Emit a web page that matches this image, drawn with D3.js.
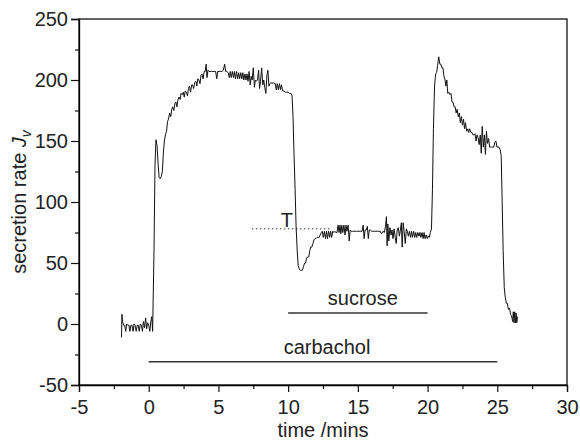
<!doctype html>
<html lang="en">
<head>
<meta charset="utf-8">
<title>secretion rate</title>
<style>
  body { margin: 0; background: #fff; }
  svg { display: block; font-family: "Liberation Sans", Arial, sans-serif; }
</style>
</head>
<body>
<svg width="580" height="442"></svg>
<script src="https://d3js.org/d3.v7.min.js"></script>
<script>
// trace: time (mins) and secretion rate
var timeMins = [
  -1.95, -1.92, -1.88, -1.8, -1.72, -1.65, -1.58, -1.5, -1.42, -1.35, -1.28, -1.2, -1.12, -1.05,
  -0.98, -0.9, -0.82, -0.75, -0.68, -0.6, -0.52, -0.45, -0.38, -0.3, -0.22, -0.15, -0.08, 0.0,
  0.08, 0.15, 0.22, 0.28, 0.38, 0.45, 0.52, 0.6, 0.68, 0.75, 0.82, 0.9, 0.98, 1.05, 1.12, 1.2,
  1.28, 1.35, 1.42, 1.5, 1.58, 1.65, 1.72, 1.8, 1.88, 1.95, 2.02, 2.1, 2.18, 2.25, 2.32, 2.4,
  2.48, 2.55, 2.62, 2.7, 2.78, 2.85, 2.92, 3.0, 3.08, 3.15, 3.22, 3.3, 3.38, 3.45, 3.52, 3.6,
  3.68, 3.75, 3.82, 3.9, 3.98, 4.05, 4.12, 4.18, 4.25, 4.32, 4.4, 4.5, 4.6, 4.7, 4.8, 4.88,
  4.95, 5.05, 5.15, 5.25, 5.35, 5.45, 5.52, 5.6, 5.7, 5.78, 5.85, 5.92, 6.0, 6.08, 6.15, 6.22,
  6.3, 6.38, 6.45, 6.52, 6.6, 6.68, 6.75, 6.82, 6.9, 6.98, 7.05, 7.12, 7.2, 7.28, 7.35, 7.42,
  7.5, 7.58, 7.65, 7.72, 7.8, 7.88, 7.95, 8.02, 8.1, 8.18, 8.25, 8.32, 8.4, 8.48, 8.55, 8.62,
  8.7, 8.78, 8.85, 8.92, 9.0, 9.08, 9.15, 9.22, 9.3, 9.38, 9.45, 9.52, 9.6, 9.7, 9.8, 9.9,
  10.0, 10.1, 10.2, 10.28, 10.35, 10.42, 10.5, 10.57, 10.65, 10.72, 10.8, 10.88, 10.95, 11.02,
  11.1, 11.18, 11.25, 11.32, 11.4, 11.48, 11.55, 11.62, 11.7, 11.78, 11.85, 11.92, 12.0, 12.08,
  12.15, 12.22, 12.3, 12.38, 12.45, 12.52, 12.6, 12.68, 12.75, 12.82, 12.9, 12.98, 13.05, 13.12,
  13.2, 13.28, 13.35, 13.42, 13.5, 13.58, 13.65, 13.72, 13.78, 13.85, 13.92, 14.0, 14.08, 14.15,
  14.22, 14.3, 14.38, 14.45, 14.52, 14.6, 14.7, 14.8, 14.9, 15.0, 15.1, 15.2, 15.3, 15.38,
  15.45, 15.52, 15.6, 15.68, 15.75, 15.82, 15.9, 16.0, 16.1, 16.2, 16.3, 16.4, 16.5, 16.6,
  16.7, 16.8, 16.9, 16.98, 17.05, 17.1, 17.15, 17.22, 17.3, 17.38, 17.45, 17.52, 17.6, 17.68,
  17.75, 17.82, 17.9, 17.98, 18.05, 18.12, 18.18, 18.25, 18.32, 18.4, 18.48, 18.55, 18.62, 18.7,
  18.78, 18.85, 18.92, 19.0, 19.08, 19.15, 19.22, 19.3, 19.38, 19.45, 19.52, 19.6, 19.68, 19.75,
  19.82, 19.9, 19.98, 20.05, 20.12, 20.2, 20.28, 20.35, 20.42, 20.5, 20.58, 20.65, 20.72, 20.8,
  20.88, 20.95, 21.02, 21.1, 21.18, 21.25, 21.32, 21.38, 21.45, 21.52, 21.6, 21.68, 21.75, 21.82,
  21.9, 21.98, 22.05, 22.12, 22.2, 22.28, 22.35, 22.42, 22.5, 22.58, 22.65, 22.72, 22.8, 22.88,
  22.95, 23.02, 23.1, 23.18, 23.25, 23.32, 23.4, 23.48, 23.55, 23.62, 23.7, 23.78, 23.85, 23.92,
  24.0, 24.08, 24.15, 24.22, 24.3, 24.38, 24.45, 24.52, 24.6, 24.68, 24.75, 24.82, 24.9, 24.98,
  25.05, 25.12, 25.2, 25.28, 25.35, 25.42, 25.5, 25.57, 25.65, 25.72, 25.8, 25.88, 25.95, 26.02,
  26.1, 26.15, 26.2, 26.25, 26.3, 26.35, 26.4, 26.45
];
var secretionRate = [
  -11, 8, 2, -1, -1, -6, 0, -1, -1, -6, -1, -1, -6, 0,
  -1, -6, -1, -1, -6, 0, -1, -6, 2, -3, 5, -4, 1, -1,
  -6, 2, 6, -6, 60, 130, 151, 146, 130, 120, 119, 121, 125, 140, 150, 155,
  158, 166, 168, 173, 170, 176, 178, 175, 181, 182, 178, 184, 186, 184, 189, 188,
  190, 186, 191, 190, 187, 193, 195, 190, 196, 196, 193, 198, 199, 195, 201, 200,
  197, 204, 205, 201, 207, 207, 213, 202, 208, 207, 207, 207, 207, 207, 207, 201,
  207, 207, 207, 207, 208, 213, 207, 207, 206, 202, 207, 202, 207, 202, 207, 201,
  207, 201, 206, 201, 206, 201, 206, 200, 205, 200, 205, 199, 207, 196, 203, 200,
  210, 194, 200, 199, 200, 208, 193, 199, 210, 196, 200, 194, 189, 204, 208, 195,
  197, 198, 197, 198, 197, 197, 192, 197, 192, 197, 192, 196, 191, 191, 190, 190,
  190, 189, 189, 187, 170, 140, 110, 80, 60, 48, 45, 44, 44, 44,
  47, 50, 50, 54, 55, 55, 60, 63, 63, 66, 69, 70, 70, 71,
  71, 71, 73, 75, 76, 71, 76, 70, 76, 70, 76, 71, 76, 71,
  76, 75, 76, 75, 75, 81, 75, 81, 74, 81, 75, 81, 73, 81,
  76, 81, 68, 77, 76, 76, 76, 76, 76, 76, 76, 76, 76, 81,
  70, 77, 77, 80, 70, 77, 77, 76, 76, 76, 76, 76, 76, 76,
  74, 76, 75, 80, 88, 64, 82, 68, 79, 73, 77, 70, 78, 71,
  66, 77, 79, 72, 77, 83, 63, 83, 76, 66, 78, 76, 72, 76,
  71, 76, 71, 76, 71, 75, 71, 75, 72, 75, 71, 75, 70, 75,
  70, 73, 70, 72, 71, 75, 78, 110, 160, 195, 205, 206, 212, 219,
  213, 213, 210, 210, 203, 200, 195, 200, 189, 190, 188, 189, 182, 182,
  178, 178, 173, 176, 170, 173, 165, 170, 163, 168, 160, 165, 158, 160,
  157, 160, 157, 157, 155, 155, 156, 150, 155, 153, 147, 155, 140, 162,
  145, 155, 139, 158, 148, 152, 145, 145, 145, 145, 145, 149, 150, 145,
  145, 145, 143, 138, 100, 60, 30, 22, 17, 17, 12, 13, 8, 7,
  2, 10, 1, 10, 1, 9, 1, 6
];
var xTicks = [-5, 0, 5, 10, 15, 20, 25, 30];
var yTicks = [-50, 0, 50, 100, 150, 200, 250];
// treatment bars: label, start, end, level
var bars = [
  { label: "sucrose", t0: 10, t1: 20, y: 9 },
  { label: "carbachol", t0: 0, t1: 25, y: -31 }
];
var tLine = { t0: 7.4, t1: 13.0, y: 78, label: "T" };

var svg = d3.select("svg");
var margin = { left: 79, top: 19, right: 13, bottom: 57 };
var W = 580 - margin.left - margin.right,
    H = 442 - margin.top - margin.bottom;
var fs = 20;

var x = d3.scaleLinear().domain([-5, 30]).range([0, W]);
var y = d3.scaleLinear().domain([-50, 250]).range([H, 0]);

var g = svg.append("g").attr("transform", "translate(" + margin.left + "," + margin.top + ")");

// frame
g.append("rect").attr("width", W).attr("height", H)
  .attr("fill", "none").attr("stroke", "#111").attr("stroke-width", 1.3);

// minor ticks
g.append("g").attr("transform", "translate(0," + H + ")")
  .call(d3.axisBottom(x).tickValues(d3.range(-2.5, 30, 5)).tickSize(4).tickFormat(""))
  .call(function(s) { s.select(".domain").remove(); });
g.append("g")
  .call(d3.axisLeft(y).tickValues(d3.range(-25, 250, 50)).tickSize(4).tickFormat(""))
  .call(function(s) { s.select(".domain").remove(); });

var plain = function(d) { return String(d); };
var xAxis = g.append("g").attr("transform", "translate(0," + H + ")")
  .call(d3.axisBottom(x).tickValues(xTicks).tickSize(7).tickPadding(8).tickFormat(plain));
var yAxis = g.append("g")
  .call(d3.axisLeft(y).tickValues(yTicks).tickSize(8).tickPadding(3).tickFormat(plain));

[xAxis, yAxis].forEach(function(a) {
  a.select(".domain").attr("stroke-width", 1.3);
  a.selectAll("text").attr("font-size", fs).attr("fill", "#222")
    .attr("font-family", "Liberation Sans, Arial, sans-serif");
});
g.selectAll(".tick line").attr("stroke", "#111").attr("stroke-width", 1.2);

// axis titles
svg.append("text").attr("x", margin.left + W / 2).attr("y", 437)
  .attr("text-anchor", "middle").attr("font-size", fs).attr("fill", "#222")
  .text("time /mins");
var yl = svg.append("text")
  .attr("transform", "translate(26," + (margin.top + H / 2) + ") rotate(-90)")
  .attr("text-anchor", "middle").attr("font-size", fs).attr("fill", "#222");
yl.append("tspan").text("secretion rate ");
yl.append("tspan").attr("font-style", "italic").text("J");
yl.append("tspan").attr("font-style", "italic").attr("font-size", 14).attr("dy", 5).text("v");

// dotted reference line and T
g.append("line")
  .attr("x1", x(tLine.t0)).attr("x2", x(tLine.t1))
  .attr("y1", y(tLine.y)).attr("y2", y(tLine.y))
  .attr("stroke", "#333").attr("stroke-width", 1).attr("stroke-dasharray", "1.5,2.5");
g.append("text").attr("x", x(9.9)).attr("y", y(tLine.y) - 2)
  .attr("text-anchor", "middle").attr("font-size", fs).attr("fill", "#222")
  .text(tLine.label);

// treatment bars
g.selectAll(".bar").data(bars).enter().append("line")
  .attr("x1", function(d) { return x(d.t0); })
  .attr("x2", function(d) { return x(d.t1); })
  .attr("y1", function(d) { return y(d.y); })
  .attr("y2", function(d) { return y(d.y); })
  .attr("stroke", "#333").attr("stroke-width", 1.4);
g.selectAll(".barlabel").data(bars).enter().append("text")
  .attr("x", function(d) { return x((d.t0 + d.t1) / 2) + (d.label === "carbachol" ? 4 : 5); })
  .attr("y", function(d) { return y(d.y) - 8; })
  .attr("text-anchor", "middle").attr("font-size", fs).attr("fill", "#222")
  .text(function(d) { return d.label; });

// trace
var line = d3.line()
  .x(function(d) { return x(d[0]); })
  .y(function(d) { return y(d[1]); });
g.append("path")
  .datum(d3.zip(timeMins, secretionRate))
  .attr("fill", "none").attr("stroke", "#111").attr("stroke-width", 1)
  .attr("stroke-linejoin", "miter")
  .attr("d", line);
</script>
</body>
</html>
